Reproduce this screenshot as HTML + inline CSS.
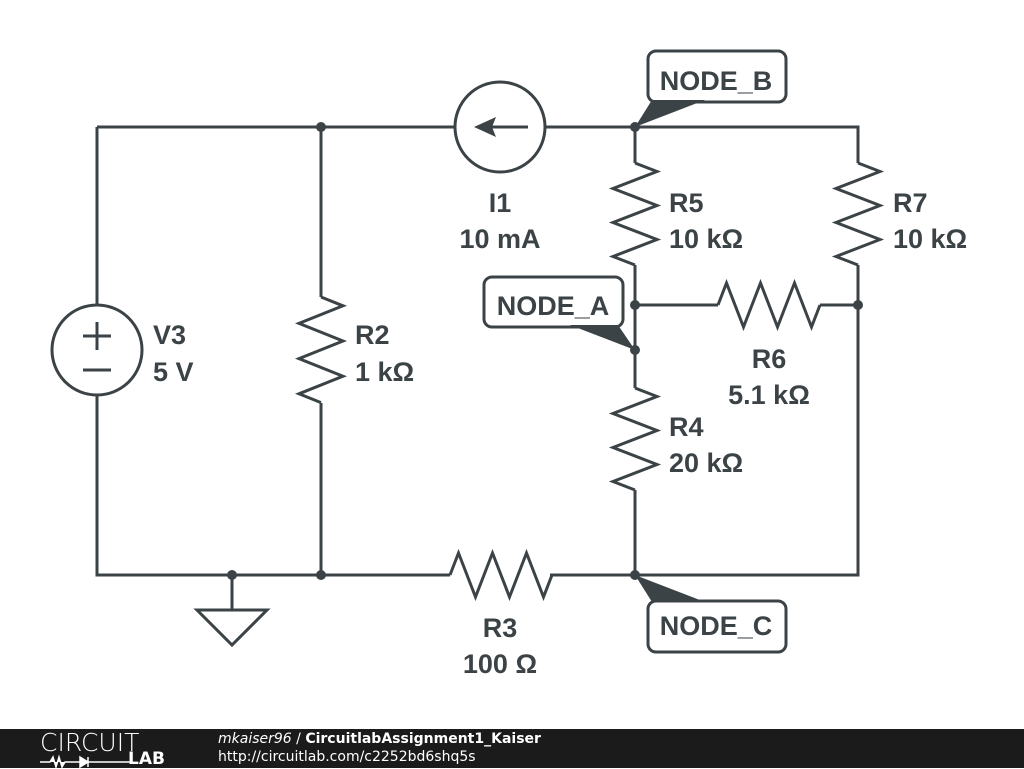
<!DOCTYPE html>
<html><head><meta charset="utf-8"><style>
body{margin:0;background:#fff;width:1024px;height:768px;overflow:hidden;position:relative;font-family:"DejaVu Sans",sans-serif}
#bar{position:absolute;left:0;top:729px;width:1024px;height:39px;background:#1b1b1b;color:#fff}
</style></head><body>
<svg width="1024" height="729" style="position:absolute;left:0;top:0">
<g stroke="#3c4347" stroke-width="3" fill="none" stroke-linejoin="miter">
<path d="M97 127H455M545 127H858V163M858 265V575H550M450 575H97V395M97 305V127"/>
<path d="M321 127V297M321 403V575"/>
<path d="M635 127V163M635 265V388M635 490V575"/>
<path d="M635 305H718M820 305H858"/>
<path d="M232 575V610M197 610H267L232 645Z"/>
<path d="M635 163l22 8.5l-44 17l44 17l-44 17l44 17l-44 17l22 8.5"/>
<path d="M858 163l22 8.5l-44 17l44 17l-44 17l44 17l-44 17l22 8.5"/>
<path d="M635 388l22 8.5l-44 17l44 17l-44 17l44 17l-44 17l22 8.5"/>
<path d="M321 297l22 8.8l-44 17.6l44 17.6l-44 17.6l44 17.6l-44 17.6l22 8.8"/>
<path d="M718 305l8.5 -22l17 44l17 -44l17 44l17 -44l17 44l8.5 -22"/>
<path d="M450 575l8.5 -22l17 44l17 -44l17 44l17 -44l17 44l8.5 -22"/>
<circle cx="97" cy="350" r="45"/>
<path d="M83 336H111M97 322V350M83 370H111"/>
<circle cx="500" cy="127" r="45"/>
<path d="M528 127H480"/>
<rect x="648" y="51" width="138" height="51" rx="8"/>
<rect x="484" y="277" width="139" height="50" rx="8"/>
<rect x="648" y="601" width="138" height="51" rx="8"/>
</g>
<g fill="#3c4347">
<path d="M474 127L496 117L492 127L496 137Z"/>
<circle cx="321" cy="127" r="5"/><circle cx="635" cy="127" r="5"/>
<circle cx="635" cy="305" r="5"/><circle cx="858" cy="305" r="5"/>
<circle cx="635" cy="350" r="5"/><circle cx="635" cy="575" r="5"/>
<circle cx="321" cy="575" r="5"/><circle cx="232" cy="575" r="5"/>
<path d="M635 127L652 100L705 100Z"/>
<path d="M635 350L618 325L570 325Z"/>
<path d="M635 575L652 602L705 602Z"/>
</g>
<g font-family="Liberation Sans,sans-serif" font-weight="bold" font-size="27" fill="#3c4347">
<text x="716" y="90" text-anchor="middle">NODE_B</text>
<text x="553" y="315" text-anchor="middle">NODE_A</text>
<text x="716" y="635" text-anchor="middle">NODE_C</text>
<text x="153" y="344">V3</text><text x="153" y="381">5 V</text>
<text x="355" y="344">R2</text><text x="355" y="381">1 kΩ</text>
<text x="500" y="212" text-anchor="middle">I1</text><text x="500" y="248" text-anchor="middle">10 mA</text>
<text x="669" y="212">R5</text><text x="669" y="248">10 kΩ</text>
<text x="893" y="212">R7</text><text x="893" y="248">10 kΩ</text>
<text x="769" y="368" text-anchor="middle">R6</text><text x="769" y="404" text-anchor="middle">5.1 kΩ</text>
<text x="669" y="436">R4</text><text x="669" y="472">20 kΩ</text>
<text x="500" y="637" text-anchor="middle">R3</text><text x="500" y="673" text-anchor="middle">100 Ω</text>
</g>
</svg>
<div id="bar">
<div style="position:absolute;left:40px;top:1px;font-size:25px;font-family:'DejaVu Sans';font-weight:200;line-height:25px">CIRCUIT</div>
<svg style="position:absolute;left:38px;top:25px" width="120" height="14"><path d="M2 8H12l3-5 3 10 3-10 3 10 3-5H42M50 3V13M42 3L50 8L42 13ZM50 8H92" stroke="#fff" stroke-width="1.5" fill="#fff"/></svg>
<div style="position:absolute;left:128px;top:22px;font-size:17px;font-weight:bold;line-height:17px">LAB</div>
<div style="position:absolute;left:218px;top:2px;font-size:14px;line-height:17px"><i>mkaiser96</i> / <b>CircuitlabAssignment1_Kaiser</b></div>
<div style="position:absolute;left:218px;top:20px;font-size:14px;line-height:17px">http://circuitlab.com/c2252bd6shq5s</div>
</div>
</body></html>
